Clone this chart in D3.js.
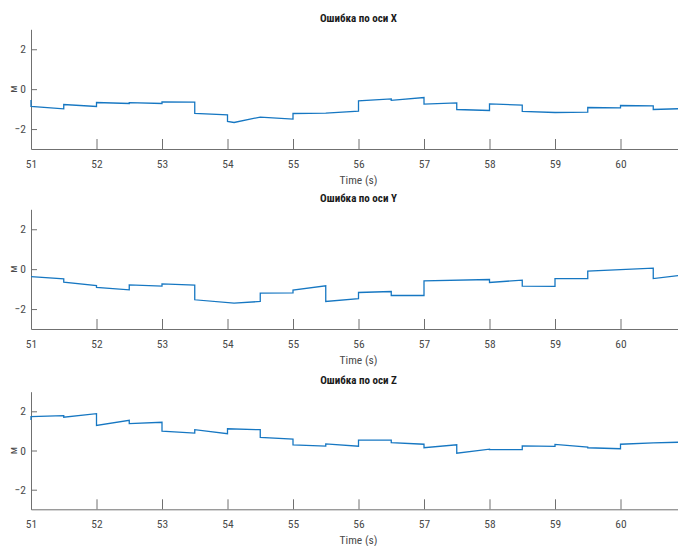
<!DOCTYPE html>
<html>
<head>
<meta charset="utf-8">
<script src="https://cdn.jsdelivr.net/npm/d3@7"></script>
<style>
  html, body { margin: 0; padding: 0; background: #fff; }
  svg { display: block; }
  text { font-family: "Liberation Sans Narrow", "Arial Narrow", "Roboto Condensed", sans-serif; }
</style>
</head>
<body>
<svg id="chart" width="678" height="546"></svg>
<script>
// Time stamps (s); repeated stamps mark the step jumps every half second
const timeX = [51, 51, 51.5, 51.5, 52, 52, 52.5, 52.5, 53, 53, 53.5, 53.5, 54, 54, 54.1, 54.5, 55, 55, 55.5, 56, 56, 56.5, 56.5, 57, 57, 57.5, 57.5, 58, 58, 58.5, 58.5, 59, 59.5, 59.5, 60, 60, 60.5, 60.5, 61];
const errX  = [-0.55, -0.87, -0.985, -0.77, -0.87, -0.67, -0.72, -0.68, -0.72, -0.635, -0.65, -1.22, -1.285, -1.62, -1.67, -1.40, -1.50, -1.22, -1.20, -1.10, -0.585, -0.485, -0.56, -0.42, -0.75, -0.69, -1.02, -1.07, -0.735, -0.80, -1.12, -1.17, -1.15, -0.92, -0.935, -0.82, -0.84, -1.02, -0.97];

const timeY = [51, 51.5, 51.5, 52, 52, 52.5, 52.5, 53, 53, 53.5, 53.5, 54.1, 54.5, 54.5, 55, 55, 55.5, 55.5, 56, 56, 56.5, 56.5, 57, 57, 58, 58, 58.5, 58.5, 59, 59, 59.5, 59.5, 60.5, 60.5, 61];
const errY  = [-0.37, -0.485, -0.65, -0.82, -0.92, -1.035, -0.785, -0.85, -0.735, -0.80, -1.535, -1.70, -1.62, -1.20, -1.19, -1.05, -0.835, -1.62, -1.48, -1.17, -1.12, -1.32, -1.32, -0.585, -0.52, -0.67, -0.55, -0.85, -0.86, -0.47, -0.47, -0.10, 0.05, -0.47, -0.28];

const timeZ = [51, 51, 51.5, 51.5, 52, 52, 52.5, 52.5, 53, 53, 53.5, 53.5, 54, 54, 54.5, 54.5, 55, 55, 55.5, 55.5, 56, 56, 56.5, 56.5, 57, 57, 57.5, 57.5, 58, 58, 58.5, 58.5, 59, 59, 59.5, 59.5, 60, 60, 60.5, 61];
const errZ  = [1.55, 1.73, 1.78, 1.70, 1.88, 1.28, 1.54, 1.37, 1.44, 0.99, 0.89, 1.06, 0.86, 1.11, 1.06, 0.67, 0.58, 0.29, 0.22, 0.34, 0.22, 0.53, 0.53, 0.40, 0.32, 0.14, 0.29, -0.14, 0.07, 0.04, 0.05, 0.24, 0.21, 0.31, 0.17, 0.14, 0.09, 0.32, 0.39, 0.43];

const titles = ["Ошибка по оси X", "Ошибка по оси Y", "Ошибка по оси Z"];
const xTicks = [51, 52, 53, 54, 55, 56, 57, 58, 59, 60];
const yTicks = [-2, 0, 2];
const xLabel = "Time (s)";
const yLabel = "м";

const series = [
  { t: timeX, v: errX, title: titles[0], top: 29.3, bottom: 149 },
  { t: timeY, v: errY, title: titles[1], top: 209.3, bottom: 329 },
  { t: timeZ, v: errZ, title: titles[2], top: 391.7, bottom: 509.3 }
];

const svg = d3.select("#chart");
const left = 31;
const x = d3.scaleLinear().domain([51, 61]).range([left, left + 655]);

const axisColor = "#707070";
const textColor = "#4a4a4a";
const lineColor = "#1677c2";

series.forEach(s => {
  const y = d3.scaleLinear().domain([-3, 3]).range([s.bottom, s.top]);
  const g = svg.append("g");

  // x axis: baseline with inward ticks
  const gx = g.append("g").attr("transform", `translate(0,${s.bottom})`)
    .call(d3.axisBottom(x).tickValues(xTicks).tickSizeInner(-10).tickSizeOuter(0).tickFormat(d3.format("d")));
  gx.select(".domain").attr("stroke", axisColor);
  gx.selectAll(".tick line").attr("stroke", axisColor);
  gx.selectAll(".tick text").attr("fill", textColor).attr("font-size", 11.5).attr("dy", 0).attr("y", 19);

  // y axis with inward ticks
  const gy = g.append("g").attr("transform", `translate(${left},0)`)
    .call(d3.axisLeft(y).tickValues(yTicks).tickSizeInner(-6).tickSizeOuter(0).tickPadding(5).tickFormat(d3.format("d")));
  gy.select(".domain").attr("stroke", axisColor);
  gy.selectAll(".tick line").attr("stroke", axisColor);
  gy.selectAll(".tick text").attr("fill", textColor).attr("font-size", 11.5);

  // series line
  const pts = s.t.map((t, i) => [t, s.v[i]]);
  g.append("path")
    .datum(pts)
    .attr("fill", "none")
    .attr("stroke", lineColor)
    .attr("stroke-width", 1.3)
    .attr("d", d3.line().x(d => x(d[0])).y(d => y(d[1])));

  // title
  g.append("text")
    .attr("x", x(56))
    .attr("y", s.top - 7.5)
    .attr("text-anchor", "middle")
    .attr("font-size", 11)
    .attr("font-weight", "bold")
    .attr("fill", "#1a1a1a")
    .text(s.title);

  // axis labels
  g.append("text")
    .attr("x", x(56))
    .attr("y", s.bottom + 35)
    .attr("text-anchor", "middle")
    .attr("font-size", 11.5)
    .attr("fill", textColor)
    .text(xLabel);

  g.append("text")
    .attr("transform", `translate(16.5,${y(0)}) rotate(-90)`)
    .attr("text-anchor", "middle")
    .attr("font-size", 11.5)
    .attr("fill", textColor)
    .text(yLabel);
});
</script>
</body>
</html>
